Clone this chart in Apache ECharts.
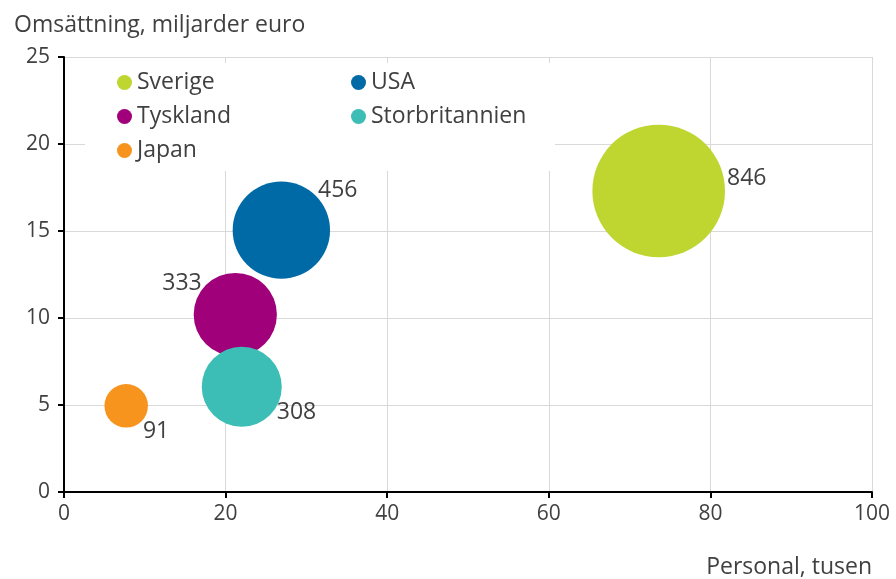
<!DOCTYPE html>
<html>
<head>
<meta charset="utf-8">
<script src="https://cdn.jsdelivr.net/npm/echarts@6/dist/echarts.min.js"></script>
<style>
html,body{margin:0;padding:0;background:#fff;}
#c{width:896px;height:579px;}
</style>
</head>
<body>
<div id="c"></div>
<script>
// Data
const countries = ['Sverige', 'USA', 'Tyskland', 'Storbritannien', 'Japan'];
const personal = [73.6, 26.9, 21.2, 22.0, 7.7];       // x: Personal, tusen
const omsattning = [17.3, 15.05, 10.2, 6.05, 4.95];   // y: Omsättning, miljarder euro
const foretag = [846, 456, 333, 308, 91];             // bubble size / label
const colors = ['#BED62F', '#006AA7', '#A0007A', '#3CBDB5', '#F7941D'];
const labelOffsets = [[-1, -13], [-15, -40], [11, -31], [-8, 26], [-8, 26]];
const labelPositions = ['right', 'right', 'left', 'right', 'right'];

const FONT = 'Open Sans';
const TXT = '#404040';
const chart = echarts.init(document.getElementById('c'));

const series = countries.map((name, i) => ({
  name: name,
  type: 'scatter',
  data: [[personal[i], omsattning[i], foretag[i]]],
  symbol: 'circle',
  symbolSize: v => 4.56 * Math.sqrt(v[2]),
  itemStyle: { color: colors[i], opacity: 1 },
  label: {
    show: true,
    position: labelPositions[i],
    offset: labelOffsets[i],
    distance: 3,
    formatter: p => String(p.value[2]),
    color: TXT,
    fontFamily: FONT,
    fontSize: 23
  },
  emphasis: { disabled: true },
  z: 3
}));

const legendCommon = {
  orient: 'vertical',
  icon: 'circle',
  itemWidth: 15,
  itemHeight: 15,
  itemGap: 11,
  padding: 0,
  textStyle: { fontFamily: FONT, fontSize: 23, color: TXT, lineHeight: 22 },
  selectedMode: false
};

chart.setOption({
  animation: false,
  backgroundColor: '#fff',
  grid: { left: 64, right: 24, top: 57, bottom: 87 },
  xAxis: {
    type: 'value', min: 0, max: 100, interval: 20,
    axisLine: { show: true, lineStyle: { color: '#000', width: 2 } },
    axisTick: { show: true, inside: false, length: 6, lineStyle: { color: '#000', width: 2 } },
    axisLabel: { fontFamily: FONT, fontSize: 21, color: TXT, margin: 12 },
    splitLine: { show: true, lineStyle: { color: '#D9D9D9', width: 1 } }
  },
  yAxis: {
    type: 'value', min: 0, max: 25, interval: 5,
    axisLine: { show: true, lineStyle: { color: '#000', width: 2 } },
    axisTick: { show: true, inside: false, length: 6, lineStyle: { color: '#000', width: 2 } },
    axisLabel: { fontFamily: FONT, fontSize: 21, color: TXT, margin: 14 },
    splitLine: { show: true, lineStyle: { color: '#D9D9D9', width: 1 } }
  },
  legend: [
    Object.assign({ left: 117, top: 71, data: ['Sverige', 'Tyskland', 'Japan'] }, legendCommon),
    Object.assign({ left: 351, top: 71, data: ['USA', 'Storbritannien'] }, legendCommon)
  ],
  graphic: [
    { type: 'rect', z: 1, shape: { x: 85, y: 63, width: 470, height: 108 }, style: { fill: '#fff' } },
    { type: 'text', left: 14, top: 14, style: { text: 'Omsättning, miljarder euro', fontFamily: FONT, fontSize: 23, fill: TXT } },
    { type: 'text', right: 24, top: 556, style: { text: 'Personal, tusen', fontFamily: FONT, fontSize: 23, fill: TXT } }
  ],
  series: series
});
</script>
</body>
</html>
